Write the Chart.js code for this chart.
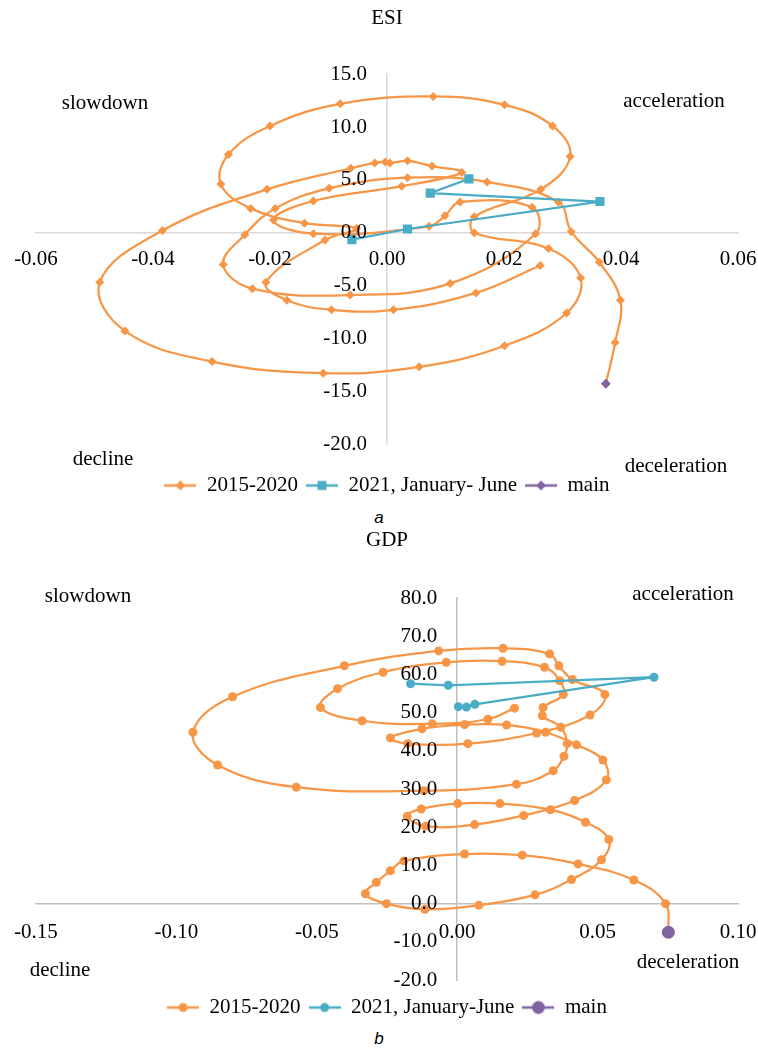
<!DOCTYPE html>
<html>
<head>
<meta charset="utf-8">
<script src="https://cdn.jsdelivr.net/npm/chart.js@4.4.0/dist/chart.umd.min.js"></script>
<style>
  body { margin: 0; background: #fff; width: 758px; height: 1055px; position: relative; overflow: hidden; }
  .box { position: absolute; left: 0; width: 758px; height: 506px; }
  #boxA { top: 0; }
  #boxB { top: 522px; }
  .cap { position: absolute; left: 0; width: 758px; text-align: center;
         font: italic 17px "Liberation Sans", Arial, sans-serif; color: #000; }
</style>
</head>
<body>
<div class="box" id="boxA"><canvas id="esi"></canvas></div>
<div class="cap" style="top:508px">a</div>
<div class="box" id="boxB"><canvas id="gdp"></canvas></div>
<div class="cap" style="top:1029px">b</div>

<script>
// ESI 2015-2020 (x = growth, y = level), in drawing order
const esiX = [0.0374, 0.0390, 0.0399, 0.0363, 0.0315, 0.0293, 0.0171, 0.0035, -0.0099, -0.0191,
              -0.0243, -0.0280, -0.0230, -0.0063, 0.0108, 0.0254, 0.0248, 0.0125, 0.0099, 0.0072,
              -0.0126, -0.0194, -0.0126, 0.0025, 0.0128, 0.0077, 0.0035, 0.0005, -0.0003, -0.0021,
              -0.0062, -0.0205, -0.0384, -0.0491, -0.0448, -0.0299, -0.0109, 0.0055, 0.0201, 0.0307,
              0.0331, 0.0276, 0.0149, 0.0149, 0.0263, 0.0313, 0.0283, 0.0201, 0.0079, -0.0080,
              -0.0200, -0.0271, -0.0284, -0.0233, -0.0141, -0.0052, -0.0106, -0.0207, -0.0171, -0.0095,
              0.0011, 0.0152, 0.0262];
const esiY = [-14.3, -10.4, -6.4, -2.8, 0.1, 2.9, 4.8, 5.2, 4.2, 2.3,
              -0.2, -3.0, -5.3, -5.9, -4.8, -0.1, 2.4, 2.9, 1.6, 0.6,
              -0.1, 1.2, 3.0, 4.4, 5.7, 6.3, 6.8, 6.6, 6.7, 6.6,
              6.1, 4.1, 0.2, -4.7, -9.3, -12.2, -13.3, -12.7, -10.7, -7.6,
              -4.3, -1.5, 0.0, 1.5, 4.1, 7.2, 10.1, 12.1, 12.9, 12.2,
              10.1, 7.4, 4.6, 2.3, 0.9, 0.4, -0.7, -4.7, -6.4, -7.3,
              -7.3, -5.7, -3.1];
const esi21X = [-0.0060, 0.0035, 0.0364, 0.0074, 0.0140];
const esi21Y = [-0.66, 0.35, 2.95, 3.75, 5.09];
const esiMainX = [0.0374];
const esiMainY = [-14.3];

// GDP 2015-2020
const gdpX = [0.0752, 0.0742, 0.0629, 0.0430, 0.0232, 0.0026, -0.0190, -0.0238, -0.0288, -0.0327, -0.0252, -0.0115,
              0.0077, 0.0277, 0.0407, 0.0514, 0.0540, 0.0457, 0.0332, 0.0152, 0.0002, -0.0128, -0.0178, -0.0113,
              0.0062, 0.0237, 0.0418, 0.0531, 0.0519, 0.0425, 0.0315, 0.0176, 0.0026, -0.0125, -0.0238, -0.0176,
              0.0038, 0.0283, 0.0473, 0.0526, 0.0410, 0.0362, 0.0329, 0.0163, -0.0066, -0.0402, -0.0800, -0.0941,
              -0.0853, -0.0573, -0.0119, 0.0211, 0.0342, 0.0380, 0.0392, 0.0369, 0.0303, 0.0306, 0.0378, 0.0365,
              0.0311, 0.0160, -0.0039, -0.0264, -0.0426, -0.0487, -0.0339, -0.0089, 0.0109, 0.0204];
const gdpY = [-7.5, 0.0, 6.2, 10.4, 12.7, 13.0, 11.2, 8.6, 5.6, 2.6, 0.0, -1.5,
              -0.4, 2.3, 6.3, 11.5, 16.8, 21.3, 24.6, 26.2, 26.2, 24.8, 22.9, 20.3,
              20.7, 23.1, 27.0, 32.4, 37.6, 41.6, 44.9, 46.8, 46.9, 45.8, 43.4, 41.9,
              41.9, 44.7, 49.4, 54.8, 58.7, 62.3, 65.4, 66.9, 66.2, 62.3, 54.2, 44.9,
              36.3, 30.5, 29.6, 31.3, 34.8, 38.6, 41.9, 46.2, 49.2, 51.4, 54.8, 58.4,
              61.9, 63.5, 63.2, 60.6, 56.3, 51.4, 47.9, 47.1, 48.3, 51.2];
const gdp21X = [0.0004, 0.0033, 0.0063, 0.0701, -0.0032, -0.0166];
const gdp21Y = [51.6, 51.5, 52.2, 59.3, 57.2, 57.6];
const gdpMainX = [0.0752];
const gdpMainY = [-7.5];

const ORANGE = '#F79646', BLUE = '#4BACC6', PURPLE = '#8064A2';
const SERIF = '"Liberation Serif", "Times New Roman", serif';

function pts(xs, ys) {
  return xs.map((x, i) => ({x: x, y: ys[i]}));
}

// legend key: short line with the marker in the middle
function makeKey(color, style, r) {
  const c = document.createElement('canvas');
  c.width = 32; c.height = 16;
  const g = c.getContext('2d');
  g.fillStyle = color; g.strokeStyle = color;
  g.lineWidth = 2.5;
  g.beginPath(); g.moveTo(0, 8); g.lineTo(32, 8); g.stroke();
  g.beginPath();
  if (style === 'rectRot') {
    g.moveTo(16, 8 - r); g.lineTo(16 + r, 8); g.lineTo(16, 8 + r); g.lineTo(16 - r, 8);
  } else if (style === 'rect') {
    g.rect(16 - r, 8 - r, 2 * r, 2 * r);
  } else {
    g.arc(16, 8, r, 0, Math.PI * 2);
  }
  g.closePath(); g.fill();
  return c;
}

// quadrant captions
const quadPlugin = {
  id: 'quads',
  afterDraw(chart) {
    const items = chart.options.plugins.quads.items;
    const ctx = chart.ctx;
    ctx.save();
    ctx.font = '21px ' + SERIF;
    ctx.fillStyle = '#000';
    ctx.textAlign = 'center';
    ctx.textBaseline = 'middle';
    items.forEach(it => ctx.fillText(it[0], it[1], it[2]));
    ctx.restore();
  }
};

// y labels sit left of the crossing axis, like the spreadsheet
function shiftYLabels(s, dx) {
  s.width = 0;
  if (s._shifted) return;
  const orig = s._computeLabelItems;
  s._computeLabelItems = function (area) {
    const items = orig.call(this, area);
    items.forEach(it => { it.options.translation[0] -= dx; });
    return items;
  };
  s._shifted = true;
}

function makeChart(id, cfg) {
  const keys = cfg.keys;
  return new Chart(document.getElementById(id), {
    type: 'scatter',
    data: { datasets: cfg.datasets },
    options: {
      responsive: true,
      maintainAspectRatio: false,
      animation: false,
      layout: { padding: { left: 36, right: 20, top: 0, bottom: 0 } },
      scales: {
        x: {
          type: 'linear', position: { y: 0 },
          min: cfg.xMin, max: cfg.xMax,
          afterFit: s => { s.height = 0; s.paddingLeft = 0; s.paddingRight = 0; },
          grid: { display: false, drawTicks: false },
          border: { display: true, color: cfg.axis, width: 1.5 },
          ticks: { stepSize: cfg.xStep, autoSkip: false, maxRotation: 0, padding: cfg.xPad, z: 1,
                   color: '#000', font: { family: SERIF, size: 21 },
                   callback: v => v.toFixed(2) }
        },
        y: {
          type: 'linear', position: { x: 0 },
          min: cfg.yMin, max: cfg.yMax,
          afterFit: s => shiftYLabels(s, 20),
          grid: { display: false, drawTicks: false },
          border: { display: true, color: cfg.axis, width: 1.5 },
          ticks: { stepSize: cfg.yStep, autoSkip: false, padding: 0, z: 1,
                   color: '#000', font: { family: SERIF, size: 21 },
                   callback: v => v.toFixed(1) }
        },
        gap: {
          type: 'linear', axis: 'x', position: 'bottom', min: 0, max: 1,
          afterFit: s => { s.height = cfg.gap; s.paddingLeft = 0; s.paddingRight = 0; },
          grid: { display: false }, border: { display: false }, ticks: { display: false }
        }
      },
      plugins: {
        title: { display: true, text: cfg.title, color: '#000',
                 font: { family: SERIF, size: 21, weight: 'normal' },
                 padding: { top: 6, bottom: cfg.titleGap } },
        legend: {
          position: 'bottom',
          labels: {
            usePointStyle: true, pointStyleWidth: 32, padding: 8,
            color: '#000', font: { family: SERIF, size: 21 },
            sort: (a, b) => a.datasetIndex - b.datasetIndex,
            generateLabels: chart => {
              const items = Chart.defaults.plugins.legend.labels.generateLabels(chart);
              items.forEach(it => { it.pointStyle = keys[it.datasetIndex]; });
              return items;
            }
          }
        },
        tooltip: { enabled: false },
        quads: { items: cfg.quads }
      }
    },
    plugins: [quadPlugin]
  });
}

makeChart('esi', {
  title: 'ESI', titleGap: 43, gap: 23, xPad: 14, axis: '#d9d9d9',
  xMin: -0.06, xMax: 0.06, xStep: 0.02, yMin: -20, yMax: 15, yStep: 5,
  keys: [makeKey(ORANGE, 'rectRot', 5), makeKey(BLUE, 'rect', 4.5), makeKey(PURPLE, 'rectRot', 5)],
  quads: [['slowdown', 105, 103], ['acceleration', 674, 101], ['decline', 103, 459], ['deceleration', 676, 466]],
  datasets: [
    { label: '2015-2020', data: pts(esiX, esiY), showLine: true, tension: 0.4,
      borderColor: ORANGE, backgroundColor: ORANGE, borderWidth: 2.25,
      pointStyle: 'rectRot', pointRadius: 4.5, pointBorderWidth: 0, order: 3 },
    { label: '2021, January- June', data: pts(esi21X, esi21Y), showLine: true, tension: 0,
      borderColor: BLUE, backgroundColor: BLUE, borderWidth: 2.25,
      pointStyle: 'rect', pointRadius: 6.5, pointBorderWidth: 0, order: 2 },
    { label: 'main', data: pts(esiMainX, esiMainY), showLine: true,
      borderColor: PURPLE, backgroundColor: PURPLE, borderWidth: 2.25,
      pointStyle: 'rectRot', pointRadius: 5, pointBorderWidth: 0, order: 1 }
  ]
});

makeChart('gdp', {
  title: 'GDP', titleGap: 45, gap: 9, xPad: 16, axis: '#bfbfbf',
  xMin: -0.15, xMax: 0.10, xStep: 0.05, yMin: -20, yMax: 80, yStep: 10,
  keys: [makeKey(ORANGE, 'circle', 4.5), makeKey(BLUE, 'circle', 4.5), makeKey(PURPLE, 'circle', 6.5)],
  quads: [['slowdown', 88, 74], ['acceleration', 683, 72], ['decline', 60, 448], ['deceleration', 688, 440]],
  datasets: [
    { label: '2015-2020', data: pts(gdpX, gdpY), showLine: true, tension: 0.4,
      borderColor: ORANGE, backgroundColor: ORANGE, borderWidth: 2.25,
      pointStyle: 'circle', pointRadius: 4.5, pointBorderWidth: 0, order: 3 },
    { label: '2021, January-June', data: pts(gdp21X, gdp21Y), showLine: true, tension: 0,
      borderColor: BLUE, backgroundColor: BLUE, borderWidth: 2.25,
      pointStyle: 'circle', pointRadius: 4.5, pointBorderWidth: 0, order: 2 },
    { label: 'main', data: pts(gdpMainX, gdpMainY), showLine: true,
      borderColor: PURPLE, backgroundColor: PURPLE, borderWidth: 2.25,
      pointStyle: 'circle', pointRadius: 6.5, pointBorderWidth: 0, order: 1 }
  ]
});
</script>
</body>
</html>
